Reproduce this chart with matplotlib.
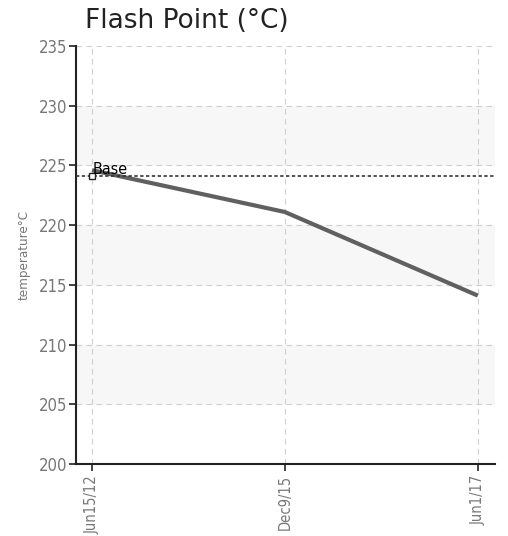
import matplotlib
matplotlib.use("Agg")
import matplotlib.pyplot as plt

dates = ["Jun15/12", "Dec9/15", "Jun1/17"]
values = [224.6, 221.1, 214.1]
base_value = 224.1
base_label = "Base"
yticks = [200, 205, 210, 215, 220, 225, 230, 235]
bands = [(205, 210), (215, 220), (225, 230)]

fam = "DejaVu Sans"
st = "condensed"

fig = plt.figure(figsize=(5.08, 5.36), dpi=100)
ax = fig.add_axes([0.1496, 0.1343, 0.8244, 0.7799])
x = list(range(len(dates)))

for lo, hi in bands:
    ax.axhspan(lo, hi, color="#f7f7f7", zorder=0)

ax.plot(x, values, color="#606060", lw=3, zorder=3, solid_capstyle="butt")
ax.axhline(base_value, color="#333333", lw=1.2, ls=(0, (2, 1.5)), zorder=4)
ax.plot([0], [base_value], marker="s", ms=5, mfc="white", mec="#222222", mew=1, zorder=5)
ax.text(0.005, base_value + 0.15, base_label, fontsize=11.5, color="#000000", family=fam, fontstretch=st, zorder=6)

ax.set_xlim(-0.083, 2.088)
ax.set_ylim(200, 235)
ax.set_yticks(yticks)
ax.set_xticks(x)
ax.set_xticklabels(dates, rotation=90, family=fam, fontstretch=st, fontsize=10.5, color="#777777")
for lbl in ax.get_yticklabels():
    lbl.set_family(fam)
    lbl.set_fontstretch(st)
ax.tick_params(axis="y", labelsize=12, labelcolor="#777777", length=5, width=1.2, pad=1, color="#222222")
ax.tick_params(axis="x", length=5, width=1.2, pad=3, color="#222222")

ax.grid(True, color="#d0d0d0", ls=(0, (5, 4)), lw=0.8, zorder=1)
ax.set_axisbelow(True)
for s in ["top", "right"]:
    ax.spines[s].set_visible(False)
for s in ["left", "bottom"]:
    ax.spines[s].set_linewidth(1.5)
    ax.spines[s].set_color("#222222")

ax.set_ylabel("temperature°C", family=fam, fontstretch=st, fontsize=9.5, color="#777777", labelpad=6)
fig.text(0.168, 0.937, "Flash Point (°C)", fontsize=19, color="#222222", family="DejaVu Sans", ha="left", va="bottom")

fig.savefig("out.png", dpi=100)
